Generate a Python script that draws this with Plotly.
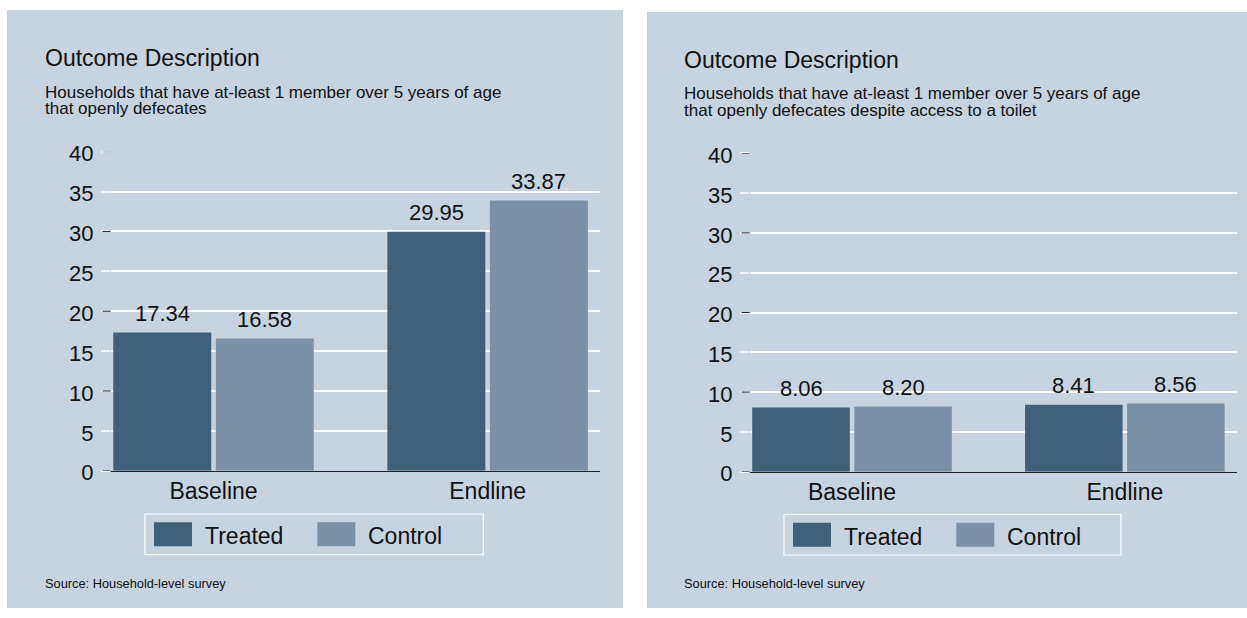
import plotly.graph_objects as go

# ---- data -------------------------------------------------------------
categories = ["Baseline", "Endline"]
series_names = ["Treated", "Control"]

od_treated = [17.34, 29.95]          # any member openly defecates
od_control = [16.58, 33.87]
od_toilet_treated = [8.06, 8.41]     # ... despite access to a toilet
od_toilet_control = [8.20, 8.56]

y_ticks = [0, 5, 10, 15, 20, 25, 30, 35, 40]
dark_ticks = [0, 10, 20, 30, 40]

titles = ["Outcome Description", "Outcome Description"]
subtitles = [
    ["Households that have at-least 1 member over 5 years of age",
     "that openly defecates"],
    ["Households that have at-least 1 member over 5 years of age",
     "that openly defecates despite access to a toilet"],
]
source_note = "Source: Household-level survey"

# ---- styling ----------------------------------------------------------
W, H = 1247, 618
BG = "#C7D3DF"
COL_T = "#3E6179"
COL_C = "#7B91A8"
INK = "#111111"
FONT = "Liberation Sans, Arial, Helvetica, sans-serif"
BARGAP = 0.252
BARGROUPGAP = 0.044


def fx(p):
    return p / W


def fy(p):
    return 1 - p / H


# pixel layout of each panel
panels = [
    dict(bg=(7, 10, 623, 608), plot_x=(111, 600), y0=470.7, y40=151.7, tx=43.7, dy=0.0,
         legend=(145, 514, 483.3, 554.7)),
    dict(bg=(647, 12, 1263, 608), plot_x=(750, 1236.7), y0=471.7, y40=153.3, tx=683.3, dy=1.5,
         legend=(784, 514.3, 1121, 555)),
]
data_sets = [(od_treated, od_control), (od_toilet_treated, od_toilet_control)]

# centre of each bar inside its group (grouped bars share the slot evenly)
slot = (1 - BARGAP) / 2
bar_offsets = [-slot / 2, slot / 2]

fig = go.Figure()
shapes = []
annotations = []

for i, (p, (tv, cv)) in enumerate(zip(panels, data_sets)):
    sfx = "" if i == 0 else str(i + 1)
    xa, ya = "x" + sfx, "y" + sfx
    for name, vals, col, off in zip(series_names, (tv, cv), (COL_T, COL_C), bar_offsets):
        fig.add_trace(go.Bar(
            x=[0, 1], y=vals, name=name, xaxis=xa, yaxis=ya,
            marker=dict(color=col, line=dict(color=col, width=0)),
            showlegend=False,
        ))
        # value labels above each bar
        for xi, v in enumerate(vals):
            annotations.append(dict(
                text=f"{v:.2f}", xref=xa, yref=ya, x=xi + off, y=v,
                xanchor="center", yanchor="bottom", yshift=4.5, showarrow=False,
                font=dict(size=22, color=INK, family=FONT)))

    x0, x1 = p["plot_x"]
    fig.update_layout(**{
        "xaxis" + sfx: dict(
            domain=[fx(x0), fx(x1)], range=[-0.374, 1.41], anchor=ya,
            tickvals=[0, 1], ticktext=categories, ticks="",
            tickfont=dict(size=23, color=INK, family=FONT),
            showgrid=False, zeroline=False, showline=True, automargin=False,
            linecolor="#222222", linewidth=1, fixedrange=True,
        ),
        "yaxis" + sfx: dict(
            domain=[fy(p["y0"]), fy(p["y40"])], range=[0, 40], anchor=xa,
            tickvals=y_ticks, ticktext=[str(v) for v in y_ticks],
            ticks="outside", ticklen=9, tickwidth=2, tickcolor="#F4F7FA",
            ticklabelstandoff=3, ticklabelshift=2, automargin=False,
            tickfont=dict(size=22, color=INK, family=FONT),
            showgrid=True, gridcolor="white", gridwidth=2,
            zeroline=False, showline=False, fixedrange=True,
        ),
    })

    # panel background
    bx0, by0, bx1, by1 = p["bg"]
    shapes.append(dict(type="rect", xref="paper", yref="paper", layer="below",
                       x0=fx(bx0), x1=fx(bx1), y0=fy(by1), y1=fy(by0),
                       fillcolor=BG, line=dict(width=0)))

    # dark major tick marks
    for v in dark_ticks:
        shapes.append(dict(type="line", xref="paper", yref=ya,
                           x0=fx(x0 - 8.5), x1=fx(x0 - 0.5), y0=v, y1=v,
                           line=dict(color="#222222", width=1), layer="above"))

    # titles
    tx, dy = p["tx"], p["dy"]
    annotations.append(dict(text=titles[i], xref="paper", yref="paper",
                            x=fx(tx - 1), y=fy(58.5 + dy), xanchor="left", yanchor="middle",
                            showarrow=False, font=dict(size=23, color=INK, family=FONT)))
    for k, line in enumerate(subtitles[i]):
        annotations.append(dict(text=line, xref="paper", yref="paper",
                                x=fx(tx - 1), y=fy(92.5 + 16.5 * k + dy), xanchor="left",
                                yanchor="middle", showarrow=False,
                                font=dict(size=17, color=INK, family=FONT)))
    annotations.append(dict(text=source_note, xref="paper", yref="paper",
                            x=fx(tx - 1), y=fy(583.5), xanchor="left", yanchor="middle",
                            showarrow=False, font=dict(size=12.8, color=INK, family=FONT)))

    # legend box with swatches
    lx0, ly0, lx1, ly1 = p["legend"]
    shapes.append(dict(type="rect", xref="paper", yref="paper",
                       x0=fx(lx0), x1=fx(lx1), y0=fy(ly1), y1=fy(ly0),
                       line=dict(color="white", width=1.2), fillcolor="rgba(0,0,0,0)"))
    ymid = (ly0 + ly1) / 2
    for name, col, sx in zip(series_names, (COL_T, COL_C), (lx0 + 9, lx0 + 172.3)):
        shapes.append(dict(type="rect", xref="paper", yref="paper",
                           x0=fx(sx), x1=fx(sx + 38), y0=fy(ymid + 12), y1=fy(ymid - 12),
                           fillcolor=col, line=dict(width=0)))
        annotations.append(dict(text=name, xref="paper", yref="paper",
                                x=fx(sx + 49), y=fy(ymid + 2), xanchor="left", yanchor="middle",
                                showarrow=False, font=dict(size=23, color=INK, family=FONT)))

fig.update_layout(
    width=W, height=H,
    margin=dict(l=0, r=0, t=0, b=0, autoexpand=False),
    paper_bgcolor="white", plot_bgcolor="rgba(0,0,0,0)",
    barmode="group", bargap=BARGAP, bargroupgap=BARGROUPGAP,
    shapes=shapes, annotations=annotations,
    font=dict(family=FONT, color=INK),
    showlegend=False,
)

fig.write_html("out.html")
